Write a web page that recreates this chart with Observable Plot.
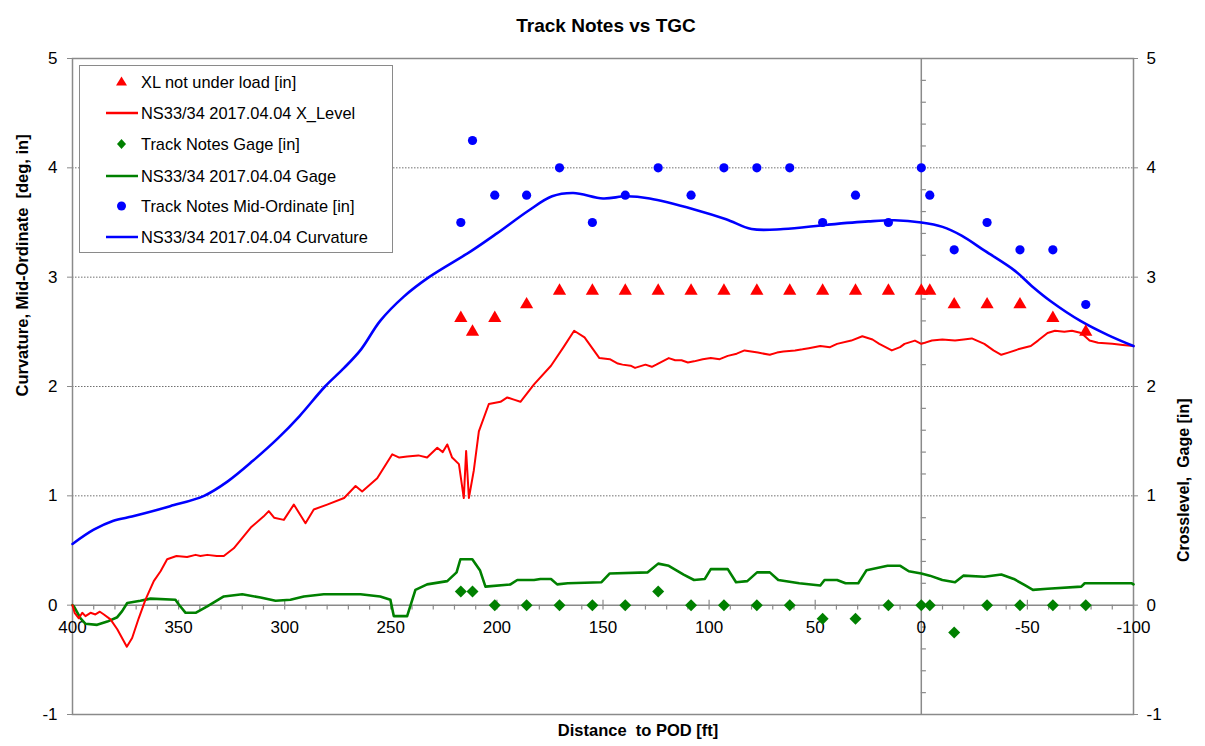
<!DOCTYPE html>
<html>
<head>
<meta charset="utf-8">
<script src="https://cdn.jsdelivr.net/npm/d3@7"></script>
<script src="https://cdn.jsdelivr.net/npm/@observablehq/plot@0.6"></script>
<style>
  body { margin: 0; background: #fff; font-family: "Liberation Sans", Arial, sans-serif; }
  #wrap { position: relative; width: 1205px; height: 746px; }
  svg text { white-space: pre; }
  #legend { position: absolute; left: 79px; top: 65px; width: 312px; height: 186px;
    border: 1.5px solid #8a8a8a; background: #fff; font-size: 16.4px; color: #000; }
  .item { position: absolute; left: 0; height: 20px; display: flex; align-items: center; }
  .item svg { width: 61px; height: 20px; }
  .item span { white-space: pre; }
</style>
</head>
<body>
<div id="wrap"></div>
<script>
// ---- data ----
const xTicks = [400, 350, 300, 250, 200, 150, 100, 50, 0, -50, -100];
const yTicks = [-1, 0, 1, 2, 3, 4, 5];

// Track notes stations [ft]
const noteDist = [217, 211.5, 201, 186, 170.5, 155, 139.5, 124, 108.5, 93, 77.5, 62, 46.5, 31, 15.5, 0, -4, -15.5, -31, -46.5, -62, -77.5];
const xlNotLoaded = [2.625, 2.5, 2.625, 2.75, 2.875, 2.875, 2.875, 2.875, 2.875, 2.875, 2.875, 2.875, 2.875, 2.875, 2.875, 2.875, 2.875, 2.75, 2.75, 2.75, 2.625, 2.5];
const notesGage = [0.125, 0.125, 0, 0, 0, 0, 0, 0.125, 0, 0, 0, 0, -0.125, -0.125, 0, 0, 0, -0.25, 0, 0, 0, 0];
const notesMidOrd = [3.5, 4.25, 3.75, 3.75, 4.0, 3.5, 3.75, 4.0, 3.75, 4.0, 4.0, 4.0, 3.5, 3.75, 3.5, 4.0, 3.75, 3.25, 3.5, 3.25, 3.25, 2.75];

// NS33/34 2017.04.04 X_Level
const xlevelDist = [400, 399, 397, 395.4, 393.9, 391.5, 389.2, 387.1, 385.2, 382.1, 378.9, 374.4, 371.9, 368.8, 365.6, 361.7, 358.5, 355.4, 351, 346, 342, 339.7, 336.5, 332, 328.7, 324, 316, 310, 307.5, 305, 300.4, 295.7, 290.2, 286.3, 280, 272, 266.6, 263.5, 256.4, 249.3, 246, 242.3, 237, 232.9, 228.1, 225.5, 223.4, 221.1, 217.9, 215.6, 214.5, 213.2, 210.9, 208.5, 203.8, 198.3, 195.1, 192, 188.9, 182.5, 174.5, 168.6, 163.6, 158.7, 151.7, 146.8, 143, 140.8, 137, 134.9, 130, 127, 124.9, 119, 116, 113, 110, 107.1, 103, 99.2, 95, 91.2, 87, 83.3, 77, 71.4, 68, 65, 59.5, 56, 53, 47.6, 43, 39.7, 33, 27.8, 23, 19.8, 13.9, 10, 7.9, 3, 0, -5, -9.9, -15.9, -20, -23.8, -29.7, -34, -37.7, -41, -45.6, -51.6, -55, -59.5, -63, -67.4, -71, -75.4, -79.3, -83.3, -90, -95, -100];
const xlevelVal = [0.0, -0.07, -0.12, -0.07, -0.1, -0.07, -0.085, -0.06, -0.085, -0.13, -0.22, -0.38, -0.3, -0.12, 0.05, 0.22, 0.31, 0.42, 0.45, 0.44, 0.46, 0.45, 0.46, 0.45, 0.45, 0.52, 0.71, 0.81, 0.86, 0.8, 0.78, 0.92, 0.75, 0.875, 0.92, 0.98, 1.09, 1.04, 1.16, 1.38, 1.35, 1.36, 1.37, 1.35, 1.44, 1.40, 1.47, 1.35, 1.29, 0.98, 1.41, 0.98, 1.23, 1.59, 1.84, 1.86, 1.9, 1.88, 1.86, 2.02, 2.19, 2.36, 2.51, 2.45, 2.26, 2.25, 2.21, 2.2, 2.19, 2.17, 2.2, 2.18, 2.2, 2.26, 2.24, 2.24, 2.22, 2.23, 2.25, 2.26, 2.25, 2.28, 2.3, 2.33, 2.31, 2.29, 2.31, 2.32, 2.33, 2.34, 2.35, 2.37, 2.36, 2.39, 2.42, 2.46, 2.43, 2.39, 2.33, 2.36, 2.39, 2.42, 2.39, 2.42, 2.43, 2.42, 2.43, 2.44, 2.39, 2.33, 2.29, 2.31, 2.34, 2.37, 2.42, 2.49, 2.51, 2.5, 2.51, 2.49, 2.42, 2.4, 2.39, 2.38, 2.37];

// NS33/34 2017.04.04 Gage
const gageDist = [400, 399.4, 396.2, 393.9, 388.4, 383.6, 378.9, 376.6, 374.2, 368, 363.2, 351.5, 349.9, 346.7, 342, 336.5, 328.7, 320, 311.4, 304.3, 297.3, 291, 281.6, 264.3, 255, 250.2, 248.6, 242.3, 238.4, 232.9, 223.4, 219, 217.2, 211.6, 208, 205.4, 193.6, 190.4, 182.5, 179.5, 174.5, 171.6, 166.6, 150.7, 146.8, 128.9, 124, 119, 112, 107.1, 102, 99.2, 91.2, 87.3, 82, 77.4, 71.4, 67.4, 57.5, 47.6, 45.6, 39.7, 35.7, 29.7, 25.8, 15.9, 9.9, 5.9, 0, -4, -9.9, -15.9, -19.8, -29.7, -37.7, -43.6, -49, -52.6, -59.5, -75.4, -77, -83.3, -99.2, -100];
const gageVal = [0.0, -0.01, -0.12, -0.17, -0.18, -0.15, -0.11, -0.055, 0.02, 0.04, 0.06, 0.05, 0.006, -0.07, -0.07, -0.01, 0.08, 0.1, 0.07, 0.04, 0.05, 0.08, 0.1, 0.1, 0.08, 0.05, -0.1, -0.1, 0.14, 0.19, 0.22, 0.3, 0.42, 0.42, 0.32, 0.17, 0.19, 0.23, 0.23, 0.24, 0.24, 0.19, 0.2, 0.21, 0.29, 0.3, 0.38, 0.36, 0.28, 0.23, 0.24, 0.33, 0.33, 0.21, 0.22, 0.3, 0.3, 0.23, 0.2, 0.18, 0.23, 0.23, 0.2, 0.2, 0.32, 0.36, 0.36, 0.31, 0.29, 0.27, 0.23, 0.21, 0.27, 0.26, 0.28, 0.24, 0.18, 0.14, 0.15, 0.17, 0.2, 0.2, 0.2, 0.19];

// NS33/34 2017.04.04 Curvature
const curvDist = [400, 390, 381, 372, 366, 354, 338, 327, 315, 303, 293, 281, 272, 264, 255, 244, 232, 212, 200, 185, 174, 164, 150, 139, 128, 107, 92, 80, 65, 44, 25, 12.6, 0, -10, -19, -30, -44, -52, -61, -75, -88, -100];
const curvVal = [0.56, 0.69, 0.77, 0.81, 0.84, 0.905, 1.0, 1.13, 1.32, 1.53, 1.73, 2.0, 2.17, 2.34, 2.6, 2.82, 3.0, 3.24, 3.40, 3.61, 3.74, 3.77, 3.72, 3.74, 3.72, 3.62, 3.53, 3.44, 3.44, 3.48, 3.51, 3.52, 3.5, 3.46, 3.38, 3.24, 3.06, 2.92, 2.78, 2.6, 2.47, 2.37];

const legendItems = [
  {label: "XL not under load [in]", kind: "triangle", color: "#ff0000"},
  {label: "NS33/34 2017.04.04 X_Level", kind: "line", color: "#ff0000"},
  {label: "Track Notes Gage [in]", kind: "diamond", color: "#008000"},
  {label: "NS33/34 2017.04.04 Gage", kind: "line", color: "#008000"},
  {label: "Track Notes Mid-Ordinate [in]", kind: "circle", color: "#0000ff"},
  {label: "NS33/34 2017.04.04 Curvature", kind: "line", color: "#0000ff"}
];

// ---- tables ----
const zip = (xs, ys) => xs.map((x, i) => ({x, y: ys[i]}));
const xlLine = zip(xlevelDist, xlevelVal);
const gageLine = zip(gageDist, gageVal);
const curvLine = zip(curvDist, curvVal);
const xlPts = zip(noteDist, xlNotLoaded);
const gagePts = zip(noteDist, notesGage);
const midPts = zip(noteDist, notesMidOrd);

const minorX = d3.range(390, -100, -10).filter(v => v % 50 !== 0);
const minorY = d3.range(-8, 50, 2).map(v => v / 10).filter(v => Math.abs(v - Math.round(v)) > 1e-9);
const gray = "#8a8a8a";

const chart = Plot.plot({
  width: 1205, height: 746,
  marginLeft: 72, marginRight: 72, marginTop: 58, marginBottom: 32,
  style: {fontFamily: "'Liberation Sans', Arial, sans-serif", background: "#fff", color: "#000"},
  x: {domain: [400, -100], axis: null},
  y: {domain: [-1, 5], axis: null},
  marks: [
    Plot.ruleY([1, 2, 3, 4], {stroke: "#707070", strokeWidth: 1, strokeDasharray: "1.5,1.5"}),
    Plot.frame({stroke: gray, strokeWidth: 1.5}),
    Plot.ruleY([0], {stroke: gray, strokeWidth: 1.5}),
    Plot.ruleX([0], {stroke: gray, strokeWidth: 1.5}),
    Plot.ruleX(xTicks, {x: d => d, y1: 0.045, y2: -0.045, stroke: gray, strokeWidth: 1.2}),
    Plot.ruleX(minorX, {x: d => d, y1: 0, y2: -0.045, stroke: gray, strokeWidth: 1.2}),
    Plot.ruleY(minorY, {y: d => d, x1: 0, x2: -2.4, stroke: gray, strokeWidth: 1.2}),
    Plot.axisY(yTicks, {anchor: "left", tickSize: 5, tickPadding: 10, fontSize: 17, stroke: gray, label: null, tickFormat: d => String(d)}),
    Plot.axisY(yTicks, {anchor: "right", tickSize: 4, tickPadding: 9, fontSize: 17, stroke: gray, label: null, tickFormat: d => String(d)}),
    Plot.text(xTicks, {x: d => d, y: 0, dy: 22, text: d => String(d), fontSize: 17, fill: "#000"}),
    Plot.line(gageLine, {x: "x", y: "y", stroke: "#008000", strokeWidth: 2.6}),
    Plot.line(xlLine, {x: "x", y: "y", stroke: "#ff0000", strokeWidth: 2}),
    Plot.line(curvLine, {x: "x", y: "y", stroke: "#0000ff", strokeWidth: 2.6, curve: "catmull-rom"}),
    Plot.dot(xlPts, {x: "x", y: "y", symbol: "triangle", r: 4.9, fill: "#ff0000", stroke: "none"}),
    Plot.dot(gagePts, {x: "x", y: "y", symbol: "diamond2", r: 5.4, fill: "#008000", stroke: "none"}),
    Plot.dot(midPts, {x: "x", y: "y", symbol: "circle", r: 4.6, fill: "#0000ff", stroke: "none"}),
    Plot.text(["Track Notes vs TGC"], {frameAnchor: "top", dy: -40, dx: 3, fontSize: 19, fontWeight: "bold", fill: "#000"}),
    Plot.text(["Curvature, Mid-Ordinate  [deg, in]"], {frameAnchor: "left", rotate: -90, dx: -50, dy: 10, fontSize: 16.5, fontWeight: "bold", fill: "#000"}),
    Plot.text(["Crosslevel,  Gage [in]"], {frameAnchor: "right", rotate: -90, dx: 50, dy: 12, fontSize: 16, fontWeight: "bold", fill: "#000"}),
    Plot.text(["Distance  to POD [ft]"], {frameAnchor: "bottom", dy: 21, dx: 35, fontSize: 16.5, fontWeight: "bold", fill: "#000"})
  ]
});

const wrap = document.getElementById("wrap");
wrap.appendChild(chart);

// legend
const legend = document.createElement("div");
legend.id = "legend";
const ys = [16, 47, 78, 110, 140, 171];
legendItems.forEach((it, i) => {
  const row = document.createElement("div");
  row.className = "item";
  row.style.top = (ys[i] - 10) + "px";
  let sym = "";
  if (it.kind === "line") sym = `<line x1="26" y1="10" x2="58" y2="10" stroke="${it.color}" stroke-width="2.5"/>`;
  else if (it.kind === "triangle") sym = `<path d="M41.5,4.5 L47,13.5 L36,13.5 Z" fill="${it.color}"/>`;
  else if (it.kind === "diamond") sym = `<path d="M41.5,5 L46,10 L41.5,15 L37,10 Z" fill="${it.color}"/>`;
  else sym = `<circle cx="41.5" cy="10" r="4.5" fill="${it.color}"/>`;
  row.innerHTML = `<svg viewBox="0 0 61 20">${sym}</svg><span>${it.label}</span>`;
  legend.appendChild(row);
});
wrap.appendChild(legend);
</script>
</body>
</html>
